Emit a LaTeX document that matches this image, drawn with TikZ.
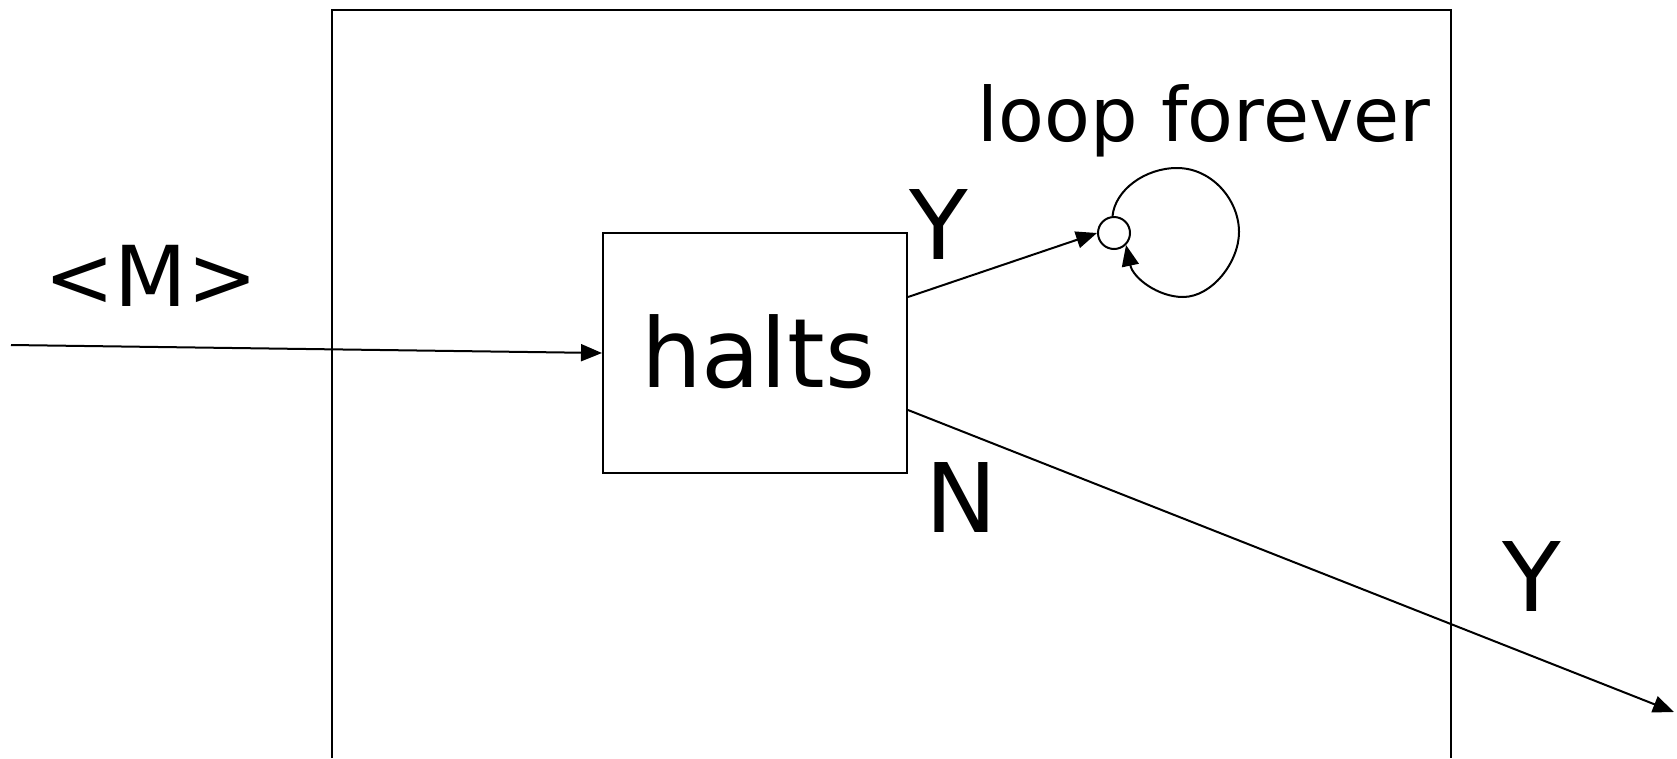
\documentclass[tikz,border=0pt]{standalone}
\usepackage{fontspec}
\setmainfont{DejaVu Sans}
\usetikzlibrary{arrows.meta}
\begin{document}
\begin{tikzpicture}[x=1pt,y=-1pt,
  line width=2pt,
  tip/.style={-{Triangle[length=21pt,width=17pt]}},
  lbl/.style={inner sep=0pt,anchor=base},
  big/.style={font=\fontsize{96}{110}\selectfont},
  boxnode/.style={draw,minimum width=304pt,minimum height=240pt,inner sep=0pt},
  state/.style={draw,circle,minimum size=32pt,inner sep=0pt}]
\useasboundingbox (0,0) rectangle (1677,758);

% outer machine frame, open at the bottom
\draw (331.5,758) -- (331.5,9.5) -- (1451,9.5) -- (1451,758);

% decider box and loop state
\node[boxnode,big] (halts) at (755,353) {};
\node[lbl,big] (haltslbl) at (758,387) {halts};
\node[state] (loopst) at (1114,233) {};

% labels
\node[lbl,font=\fontsize{84}{100}\selectfont] (inp) at (151,306) {<M>};
\node[lbl,font=\fontsize{75}{90}\selectfont] (looplbl) at (1204,141) {loop forever};
\node[lbl,big] (ylbl) at (939,259) {Y};
\node[lbl,big] (nlbl) at (961,532) {N};
\node[lbl,big] (youtlbl) at (1532,611) {Y};

% connectors
\coordinate (src) at (11,345);
\coordinate (dst) at (1674,712);
\draw[tip] (src) -- (halts.west);
\draw[tip] (halts.east |- 0,297) -- (loopst.west);
\draw[tip] (halts.east |- 0,410) -- (dst);
\draw[tip] (loopst.95) .. controls (1115,190) and (1145,168) .. (1177,168)
  .. controls (1212,168) and (1239,200) .. (1239,232)
  .. controls (1239,262) and (1212,297) .. (1183,297)
  .. controls (1158,297) and (1133,278) .. (loopst.-45);
\end{tikzpicture}
\end{document}
